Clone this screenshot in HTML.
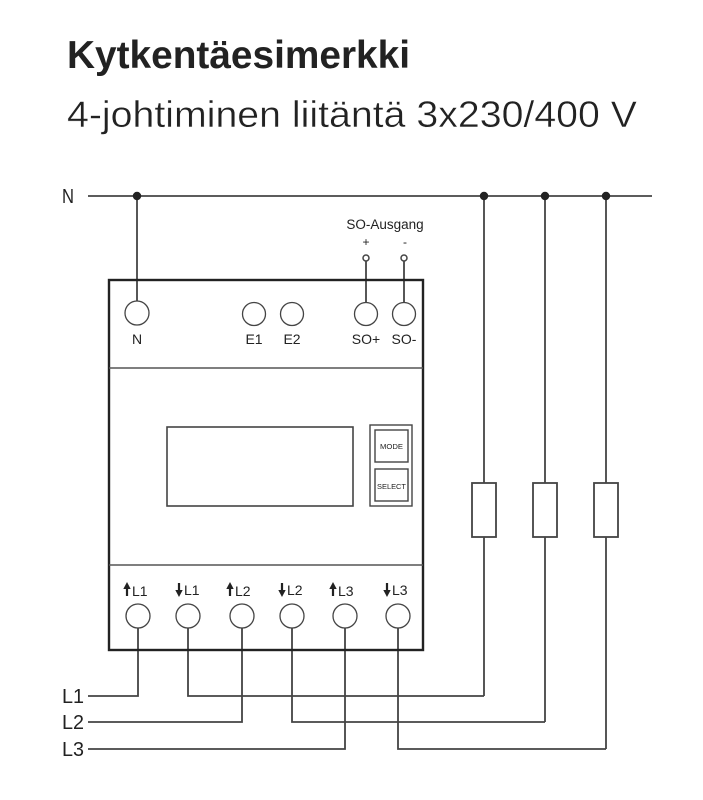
<!DOCTYPE html>
<html>
<head>
<meta charset="utf-8">
<style>
  html,body{margin:0;padding:0;background:#fff;}
  body{width:703px;height:800px;overflow:hidden;}
  svg{display:block;}
  text{font-family:"Liberation Sans",Arial,sans-serif;fill:#222;}
</style>
</head>
<body>
<svg width="703" height="800" viewBox="0 0 703 800" xmlns="http://www.w3.org/2000/svg">
  <!-- Titles -->
  <text x="67" y="68" font-size="39" font-weight="bold" textLength="343" lengthAdjust="spacingAndGlyphs" fill="#231f20">Kytkentäesimerkki</text>
  <text x="67" y="127" font-size="37" textLength="570" lengthAdjust="spacingAndGlyphs" fill="#231f20" stroke="#fff" stroke-width="0.4">4-johtiminen liitäntä 3x230/400 V</text>

  <!-- N line -->
  <text x="62" y="203" font-size="20" textLength="12" lengthAdjust="spacingAndGlyphs">N</text>
  <g stroke="#444" stroke-width="1.8" fill="none">
    <line x1="88" y1="196" x2="652" y2="196"/>
    <line x1="137" y1="196" x2="137" y2="301"/>
    <!-- load verticals -->
    <line x1="484" y1="196" x2="484" y2="483"/>
    <line x1="545" y1="196" x2="545" y2="483"/>
    <line x1="606" y1="196" x2="606" y2="483"/>
    <line x1="484" y1="537" x2="484" y2="696"/>
    <line x1="545" y1="537" x2="545" y2="722"/>
    <line x1="606" y1="537" x2="606" y2="749"/>
    <!-- resistors -->
    <rect x="472" y="483" width="24" height="54"/>
    <rect x="533" y="483" width="24" height="54"/>
    <rect x="594" y="483" width="24" height="54"/>
    <!-- SO wires -->
    <line x1="366" y1="261" x2="366" y2="302"/>
    <line x1="404" y1="261" x2="404" y2="302"/>
    <!-- bottom wiring -->
    <polyline points="88,696 138,696 138,628"/>
    <polyline points="188,628 188,696 484,696"/>
    <polyline points="88,722 242,722 242,628"/>
    <polyline points="292,628 292,722 545,722"/>
    <polyline points="88,749 345,749 345,628"/>
    <polyline points="398,628 398,749 606,749"/>
  </g>
  <g fill="#222">
    <circle cx="137" cy="196" r="4.2"/>
    <circle cx="484" cy="196" r="4.2"/>
    <circle cx="545" cy="196" r="4.2"/>
    <circle cx="606" cy="196" r="4.2"/>
  </g>

  <!-- SO-Ausgang -->
  <text x="385" y="229" font-size="13.5" text-anchor="middle">SO-Ausgang</text>
  <text x="366" y="246" font-size="12" text-anchor="middle">+</text>
  <text x="405" y="246" font-size="12" text-anchor="middle">-</text>
  <g stroke="#444" stroke-width="1.5" fill="#fff">
    <circle cx="366" cy="258" r="3"/>
    <circle cx="404" cy="258" r="3"/>
  </g>

  <!-- Meter box -->
  <rect x="109" y="280" width="314" height="370" fill="none" stroke="#222" stroke-width="2.4"/>
  <g stroke="#555" stroke-width="1.6">
    <line x1="109" y1="368" x2="423" y2="368"/>
    <line x1="109" y1="565" x2="423" y2="565"/>
  </g>

  <!-- top terminals -->
  <g stroke="#444" stroke-width="1.3" fill="#fff">
    <circle cx="137" cy="313" r="12"/>
    <circle cx="254" cy="314" r="11.5"/>
    <circle cx="292" cy="314" r="11.5"/>
    <circle cx="366" cy="314" r="11.5"/>
    <circle cx="404" cy="314" r="11.5"/>
  </g>
  <g font-size="14" text-anchor="middle">
    <text x="137" y="344">N</text>
    <text x="254" y="344">E1</text>
    <text x="292" y="344">E2</text>
    <text x="366" y="344">SO+</text>
    <text x="404" y="344">SO-</text>
  </g>

  <!-- display -->
  <rect x="167" y="427" width="186" height="79" fill="none" stroke="#444" stroke-width="1.6"/>
  <!-- buttons -->
  <g fill="none" stroke="#444" stroke-width="1.4">
    <rect x="370" y="425" width="42" height="81"/>
    <rect x="375" y="430" width="33" height="32"/>
    <rect x="375" y="469" width="33" height="32"/>
  </g>
  <text x="391.5" y="449" font-size="7.5" text-anchor="middle" textLength="23" lengthAdjust="spacingAndGlyphs">MODE</text>
  <text x="391.5" y="489" font-size="7.5" text-anchor="middle" textLength="29" lengthAdjust="spacingAndGlyphs">SELECT</text>

  <!-- bottom terminals -->
  <g stroke="#444" stroke-width="1.3" fill="#fff">
    <circle cx="138" cy="616" r="12"/>
    <circle cx="188" cy="616" r="12"/>
    <circle cx="242" cy="616" r="12"/>
    <circle cx="292" cy="616" r="12"/>
    <circle cx="345" cy="616" r="12"/>
    <circle cx="398" cy="616" r="12"/>
  </g>
  <!-- arrows -->
  <g stroke="#222" stroke-width="2.2" fill="#222">
    <line x1="127" y1="588" x2="127" y2="596"/>
    <line x1="179" y1="583" x2="179" y2="591"/>
    <line x1="230" y1="588" x2="230" y2="596"/>
    <line x1="282" y1="583" x2="282" y2="591"/>
    <line x1="333" y1="588" x2="333" y2="596"/>
    <line x1="387" y1="583" x2="387" y2="591"/>
  </g>
  <g fill="#222">
    <polygon points="123.3,589 127,582 130.7,589"/>
    <polygon points="175.3,590 179,597 182.7,590"/>
    <polygon points="226.3,589 230,582 233.7,589"/>
    <polygon points="278.3,590 282,597 285.7,590"/>
    <polygon points="329.3,589 333,582 336.7,589"/>
    <polygon points="383.3,590 387,597 390.7,590"/>
  </g>
  <g font-size="14">
    <text x="132" y="596">L1</text>
    <text x="184" y="595">L1</text>
    <text x="235" y="596">L2</text>
    <text x="287" y="595">L2</text>
    <text x="338" y="596">L3</text>
    <text x="392" y="595">L3</text>
  </g>

  <!-- L labels -->
  <g font-size="20">
    <text x="62" y="703" textLength="22" lengthAdjust="spacingAndGlyphs">L1</text>
    <text x="62" y="729" textLength="22" lengthAdjust="spacingAndGlyphs">L2</text>
    <text x="62" y="756" textLength="22" lengthAdjust="spacingAndGlyphs">L3</text>
  </g>
</svg>
</body>
</html>
